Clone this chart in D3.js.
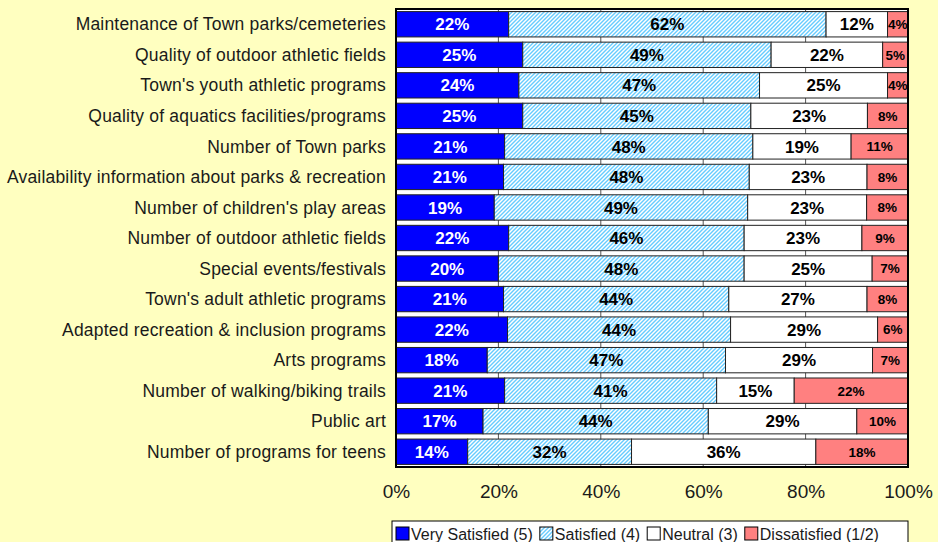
<!DOCTYPE html>
<html>
<head>
<meta charset="utf-8">
<script src="https://cdn.jsdelivr.net/npm/d3@7"></script>
<style>
    body { margin: 0; background: #FFFFC0; }
    svg { display: block; font-family: "Liberation Sans", Arial, sans-serif; }
</style>
</head>
<body>
<div id="chart"></div>
<script>
let categories = [
    "Maintenance of Town parks/cemeteries",
    "Quality of outdoor athletic fields",
    "Town's youth athletic programs",
    "Quality of aquatics facilities/programs",
    "Number of Town parks",
    "Availability information about parks & recreation",
    "Number of children's play areas",
    "Number of outdoor athletic fields",
    "Special events/festivals",
    "Town's adult athletic programs",
    "Adapted recreation & inclusion programs",
    "Arts programs",
    "Number of walking/biking trails",
    "Public art",
    "Number of programs for teens"
]

let verySatisfied = [22, 25, 24, 25, 21, 21, 19, 22, 20, 21, 22, 18, 21, 17, 14]
let satisfied = [62, 49, 47, 45, 48, 48, 49, 46, 48, 44, 44, 47, 41, 44, 32]
let neutral = [12, 22, 25, 23, 19, 23, 23, 23, 25, 27, 29, 29, 15, 29, 36]
let dissatisfied = [4, 5, 4, 8, 11, 8, 8, 9, 7, 8, 6, 7, 22, 10, 18]

let seriesNames = ["Very Satisfied (5)", "Satisfied (4)", "Neutral (3)", "Dissatisfied (1/2)"]
let tickValues = [0, 0.2, 0.4, 0.6, 0.8, 1]

let width = 938,
    height = 542

let plot = { left: 396, right: 908, top: 9, bottom: 467 }

let fills = ["#0000FF", "url(#hatch)", "#FFFFFF", "#FF8080"]
let labelColors = ["#FFFFFF", "#000000", "#000000", "#000000"]

let rows = categories.map(function (c, i) {
    return {
        category: c,
        k0: verySatisfied[i],
        k1: satisfied[i],
        k2: neutral[i],
        k3: dissatisfied[i]
    }
})

let stack = d3.stack()
    .keys(["k0", "k1", "k2", "k3"])
    .offset(d3.stackOffsetExpand)
let series = stack(rows)

let xScale = d3.scaleLinear()
    .domain([0, 1])
    .range([plot.left, plot.right])

let yScale = d3.scaleBand()
    .domain(categories)
    .range([plot.top, plot.bottom])
    .paddingInner(0.17)
    .paddingOuter(0.085)

let svg = d3.select("#chart")
    .append("svg")
    .attr("width", width)
    .attr("height", height)

svg.append("rect")
    .attr("width", width)
    .attr("height", height)
    .attr("fill", "#FFFFC0")

// hatch for "Satisfied"
let pattern = svg.append("defs")
    .append("pattern")
    .attr("id", "hatch")
    .attr("patternUnits", "userSpaceOnUse")
    .attr("width", 4)
    .attr("height", 4)
pattern.append("rect")
    .attr("width", 4)
    .attr("height", 4)
    .attr("fill", "#FFFFFF")
pattern.append("path")
    .attr("d", "M-1,1 l2,-2 M0,4 l4,-4 M3,5 l2,-2")
    .attr("stroke", "#66CCFF")
    .attr("stroke-width", 1.4)

// plot area
svg.append("rect")
    .attr("x", plot.left)
    .attr("y", plot.top)
    .attr("width", plot.right - plot.left)
    .attr("height", plot.bottom - plot.top)
    .attr("fill", "#FFFFFF")

svg.append("g")
    .selectAll("line")
    .data(tickValues.slice(1, -1))
    .enter()
    .append("line")
    .attr("x1", function (d) { return xScale(d) })
    .attr("x2", function (d) { return xScale(d) })
    .attr("y1", plot.top)
    .attr("y2", plot.bottom)
    .attr("stroke", "#555555")
    .attr("stroke-width", 1)

let groups = svg.selectAll("g.series")
    .data(series)
    .enter()
    .append("g")
    .attr("class", "series")
    .attr("fill", function (d, i) { return fills[i] })

groups.selectAll("rect")
    .data(function (d) { return d })
    .enter()
    .append("rect")
    .attr("x", function (d) { return xScale(d[0]) })
    .attr("y", function (d) { return yScale(d.data.category) })
    .attr("width", function (d) { return xScale(d[1]) - xScale(d[0]) })
    .attr("height", yScale.bandwidth())
    .attr("stroke", "#222222")
    .attr("stroke-width", 1)

// segment labels
series.forEach(function (s, i) {
    svg.append("g")
        .selectAll("text")
        .data(s)
        .enter()
        .append("text")
        .attr("x", function (d) { return (xScale(d[0]) + xScale(d[1])) / 2 })
        .attr("y", function (d) { return yScale(d.data.category) + yScale.bandwidth() / 2 })
        .attr("dy", "0.36em")
        .attr("text-anchor", "middle")
        .attr("font-weight", "bold")
        .attr("font-size", i == 3 ? 13.5 : 17)
        .attr("fill", labelColors[i])
        .text(function (d) { return d.data[s.key] + "%" })
})

svg.append("rect")
    .attr("x", plot.left)
    .attr("y", plot.top)
    .attr("width", plot.right - plot.left)
    .attr("height", plot.bottom - plot.top)
    .attr("fill", "none")
    .attr("stroke", "#000000")
    .attr("stroke-width", 2)

// category axis
svg.append("g")
    .selectAll("text")
    .data(categories)
    .enter()
    .append("text")
    .attr("x", plot.left - 10)
    .attr("y", function (d) { return yScale(d) + yScale.bandwidth() / 2 })
    .attr("dy", "0.35em")
    .attr("text-anchor", "end")
    .attr("font-size", 17.5)
    .attr("letter-spacing", 0.2)
    .attr("fill", "#1a1a1a")
    .text(function (d) { return d })

// value axis
let xAxis = d3.axisBottom(xScale)
    .tickValues(tickValues)
    .tickFormat(d3.format(".0%"))
    .tickSize(0)
    .tickPadding(18)

let axisG = svg.append("g")
    .attr("transform", "translate(0," + plot.bottom + ")")
    .call(xAxis)
axisG.select(".domain").remove()
axisG.selectAll("text")
    .attr("font-size", 19)
    .attr("font-family", "Liberation Sans, Arial, sans-serif")
    .attr("fill", "#1a1a1a")

// legend
let legend = svg.append("g")
legend.append("rect")
    .attr("x", 392)
    .attr("y", 521)
    .attr("width", 516)
    .attr("height", 40)
    .attr("fill", "#FFFFFF")
    .attr("stroke", "#000000")
    .attr("stroke-width", 1)

let legendX = 396
seriesNames.forEach(function (name, i) {
    legend.append("rect")
        .attr("x", legendX)
        .attr("y", 527)
        .attr("width", 13)
        .attr("height", 13)
        .attr("fill", fills[i])
        .attr("stroke", "#000000")
        .attr("stroke-width", 1)
    let t = legend.append("text")
        .attr("x", legendX + 15)
        .attr("y", 534)
        .attr("dy", "0.35em")
        .attr("font-size", 16)
        .attr("fill", "#1a1a1a")
        .text(name)
    legendX += 15 + t.node().getComputedTextLength() + 7
})
</script>
</body>
</html>
